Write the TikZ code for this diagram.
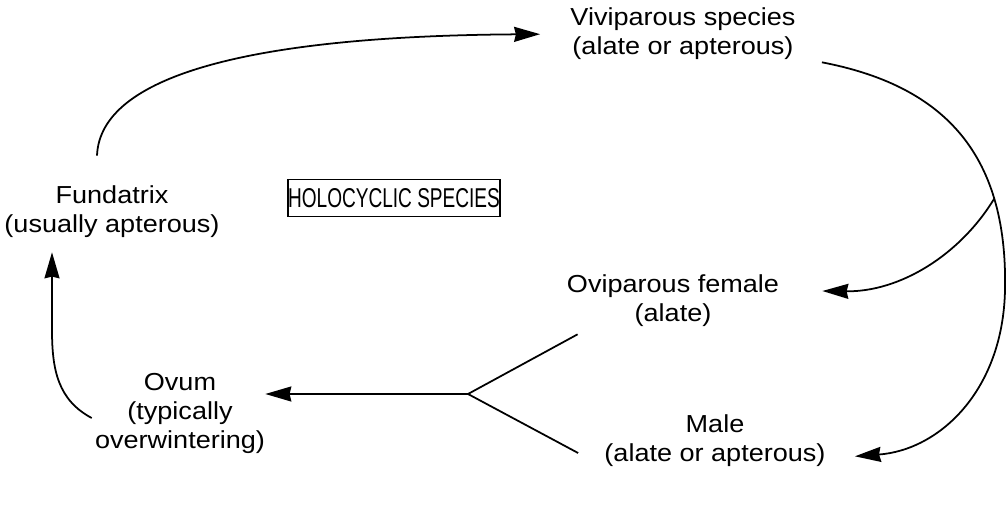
\documentclass[tikz,border=0pt]{standalone}
\usepackage{fontspec}
\setmainfont{Liberation Sans}[FakeStretch=1.1]
\newfontfamily\capsfont{Liberation Sans}[FakeStretch=0.7]
\usetikzlibrary{arrows.meta}

\begin{document}
\begin{tikzpicture}[x=0.02cm, y=-0.02cm,
  stage/.style={align=center, inner sep=0pt, font=\fontsize{14}{16.5}\selectfont},
  titlebox/.style={draw, line width=0.8pt, inner sep=0pt, minimum width=4.24cm,
    minimum height=0.74cm, font=\capsfont\fontsize{15.5}{16.5}\selectfont},
  link/.style={line width=1pt},
  flow/.style={link, -{Stealth[length=0.52cm, width=0.3cm, inset=1pt]}}]

  % page frame
  \path[use as bounding box] (0,0) rectangle (1008,507);

  % life stages
  \node[stage] (vivi) at (683,34)  {Viviparous species\\(alate or apterous)};
  \node[stage] (fund) at (112,212) {Fundatrix\\(usually apterous)};
  \node[stage] (ovip) at (673,301) {Oviparous female\\(alate)};
  \node[stage] (male) at (715,441) {Male\\(alate or apterous)};
  \node[stage] (ovum) at (180,413) {Ovum\\(typically\\overwintering)};
  \node[titlebox] (holo) at (394,198) {HOLOCYCLIC SPECIES};

  % fundatrix gives the viviparous generations
  \draw[flow, shorten >=0.6cm] ([shift={(-15,-30)}]fund.north)
    .. controls +(3,-80) and +(-320,2) .. (vivi.west);

  % big loop down to the sexual forms
  \draw[flow] ([shift={(26,2)}]vivi.south east)
    .. controls (940,85) and (1008,150) .. (1005,290) coordinate[pos=0.75] (split)
    .. controls (1003,390) and (940,450) .. ([shift={(29,-11)}]male.south east);
  \draw[flow] (split) .. controls (960,255) and (900,292) .. ([shift={(43,-10)}]ovip.east);

  % mating fork to the egg
  \coordinate (fork) at (468,394);
  \draw[link] ([shift={(11,7)}]ovip.south west) -- (fork);
  \draw[link] ([shift={(-26,12)}]male.west) -- (fork);
  \draw[flow] (fork) -- (ovum.east |- fork);

  % egg hatches into the fundatrix
  \draw[flow] ([shift={(-3,5)}]ovum.west) .. controls (58,400) and (52,370) .. (52,330)
    -- ([shift={(-60,14)}]fund.south);
\end{tikzpicture}
\end{document}
